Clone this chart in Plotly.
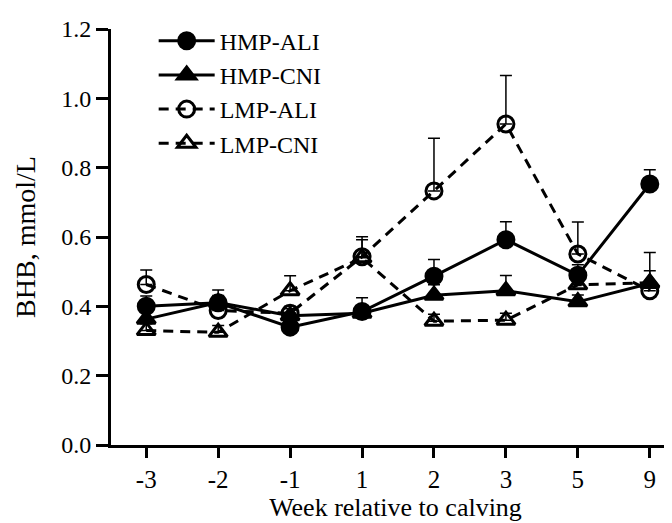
import plotly.graph_objects as go

weeks = ["-3", "-2", "-1", "1", "2", "3", "5", "9"]

hmp_ali = [0.40, 0.41, 0.34, 0.385, 0.487, 0.592, 0.490, 0.753]
hmp_ali_se = [0.03, 0.037, 0.02, 0.040, 0.048, 0.052, 0.030, 0.041]

hmp_cni = [0.363, 0.411, 0.373, 0.380, 0.432, 0.445, 0.413, 0.466]
hmp_cni_se = [0.02, 0.02, 0.02, 0.02, 0.03, 0.044, 0.02, 0.037]

lmp_ali = [0.463, 0.388, 0.380, 0.543, 0.733, 0.926, 0.551, 0.445]
lmp_ali_se = [0.042, 0.02, 0.02, 0.058, 0.152, 0.140, 0.092, 0.02]

lmp_cni = [0.330, 0.325, 0.445, 0.540, 0.357, 0.360, 0.462, 0.468]
lmp_cni_se = [0.02, 0.02, 0.043, 0.052, 0.02, 0.02, 0.02, 0.087]

series = [
    ("HMP-ALI", hmp_ali, hmp_ali_se, "circle", "solid"),
    ("HMP-CNI", hmp_cni, hmp_cni_se, "triangle-up", "solid"),
    ("LMP-ALI", lmp_ali, lmp_ali_se, "circle-open", "10px,7px"),
    ("LMP-CNI", lmp_cni, lmp_cni_se, "triangle-up-open", "10px,7px"),
]

fig = go.Figure()
for name, vals, se, sym, dash in series:
    fig.add_trace(go.Scatter(
        x=weeks, y=vals, name=name, mode="lines+markers",
        line=dict(color="black", width=3, dash=dash),
        marker=dict(symbol=sym, size=16, color="black",
                    line=dict(color="black", width=3)),
        error_y=dict(type="data", array=se, arrayminus=[0] * len(se),
                     symmetric=False, color="black", thickness=1.5, width=6),
    ))

font = "Liberation Serif, Times New Roman, serif"
fig.update_layout(
    width=672, height=523,
    margin=dict(l=103, r=0, t=21, b=86),
    paper_bgcolor="white", plot_bgcolor="white",
    font=dict(family=font, size=24, color="black"),
    showlegend=True,
    legend=dict(x=0.075, y=1.025, xanchor="left", yanchor="top",
                bgcolor="rgba(0,0,0,0)", font=dict(size=24, family=font),
                itemwidth=56, tracegroupgap=0),
)
fig.update_xaxes(
    type="category", range=[-0.49, 7.42],
    showline=True, linewidth=3, linecolor="black",
    ticks="outside", ticklen=10, tickwidth=3, tickcolor="black",
    showgrid=False, zeroline=False,
    tickfont=dict(size=25, family=font),
    title=dict(text="Week relative to calving", font=dict(size=26, family=font), standoff=3),
)
fig.update_yaxes(
    range=[0, 1.2], tickvals=[0, 0.2, 0.4, 0.6, 0.8, 1.0, 1.2],
    tickformat=".1f",
    showline=True, linewidth=3, linecolor="black",
    ticks="outside", ticklen=12, tickwidth=3, tickcolor="black",
    showgrid=False, zeroline=False,
    tickfont=dict(size=24, family=font),
    title=dict(text="BHB, mmol/L", font=dict(size=28, family=font), standoff=18),
)

fig.write_html("out.html")
